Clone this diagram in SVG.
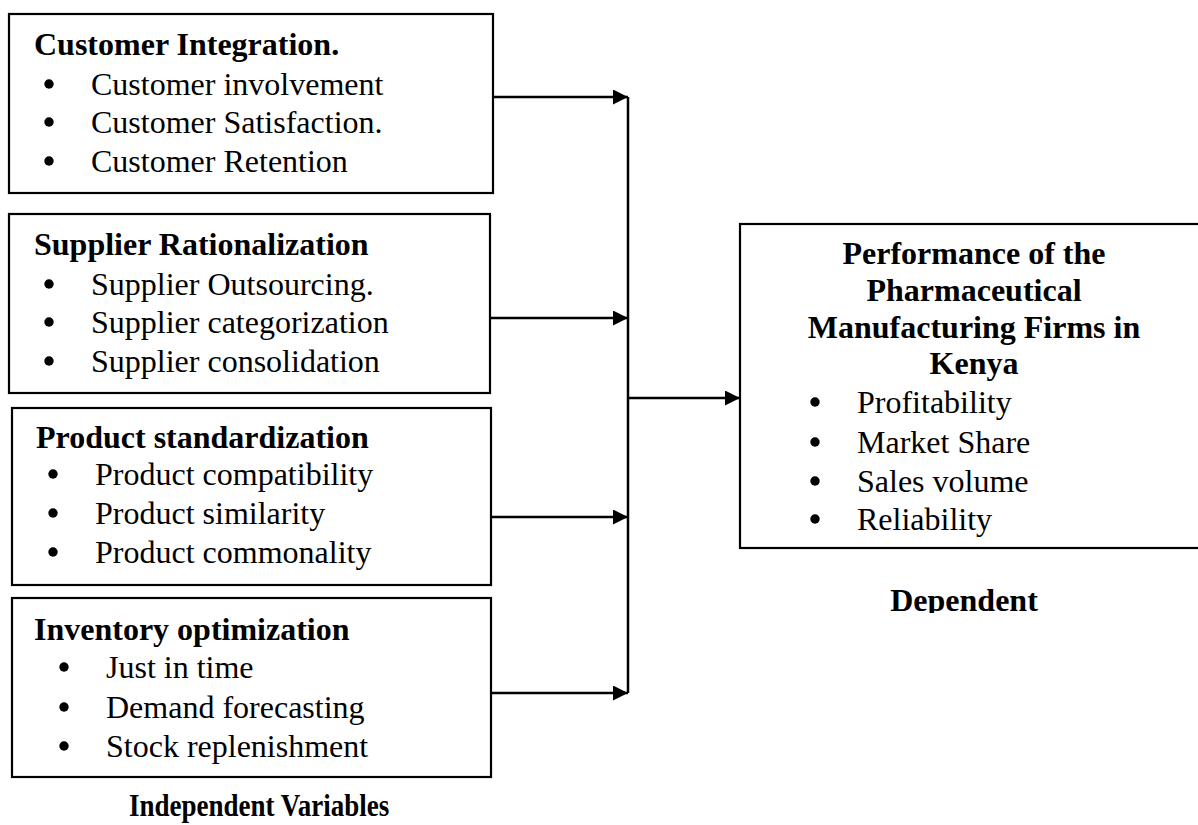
<svg xmlns="http://www.w3.org/2000/svg" width="1198" height="825" viewBox="0 0 1198 825">
<style>
.box{fill:#fff;stroke:#000;stroke-width:2.2}
.t{font-family:"Liberation Serif","Times New Roman",serif;font-size:32px;fill:#000}
.b{font-weight:bold}
.dot{fill:#000}
.ln{stroke:#000;stroke-width:2.5;fill:none}
</style>
<defs>
<marker id="ah" markerWidth="6" markerHeight="6" refX="6" refY="3" orient="auto" markerUnits="strokeWidth">
<path d="M0,0 L6,3 L0,6 Z" fill="#000"/>
</marker>
<clipPath id="clipDep"><rect x="0" y="0" width="1198" height="613"/></clipPath>
</defs>
<rect width="1198" height="825" fill="#fff"/>

<g id="connectors">
<line class="ln" x1="628" y1="97" x2="628" y2="693"/>
<line class="ln" x1="493" y1="97" x2="628" y2="97" marker-end="url(#ah)"/>
<line class="ln" x1="490" y1="318" x2="628" y2="318" marker-end="url(#ah)"/>
<line class="ln" x1="491" y1="517" x2="628" y2="517" marker-end="url(#ah)"/>
<line class="ln" x1="491" y1="693" x2="628" y2="693" marker-end="url(#ah)"/>
<line class="ln" x1="628" y1="398" x2="740" y2="398" marker-end="url(#ah)"/>
</g>

<g id="customer-integration">
<rect class="box" x="9" y="14" width="484" height="179"/>
<text class="t b" x="34" y="55">Customer Integration.</text>
<circle class="dot" cx="49" cy="84" r="4.7"/>
<circle class="dot" cx="49" cy="122" r="4.7"/>
<circle class="dot" cx="49" cy="161" r="4.7"/>
<text class="t" x="91" y="95">Customer involvement</text>
<text class="t" x="91" y="133">Customer Satisfaction.</text>
<text class="t" x="91" y="172">Customer Retention</text>
</g>

<g id="supplier-rationalization">
<rect class="box" x="9" y="214" width="481" height="179"/>
<text class="t b" x="34" y="255">Supplier Rationalization</text>
<circle class="dot" cx="49" cy="284" r="4.7"/>
<circle class="dot" cx="49" cy="322" r="4.7"/>
<circle class="dot" cx="49" cy="361" r="4.7"/>
<text class="t" x="91" y="295">Supplier Outsourcing.</text>
<text class="t" x="91" y="333">Supplier categorization</text>
<text class="t" x="91" y="372">Supplier consolidation</text>
</g>

<g id="product-standardization">
<rect class="box" x="12" y="408" width="479" height="177"/>
<text class="t b" x="36" y="448">Product standardization</text>
<circle class="dot" cx="53" cy="474" r="4.7"/>
<circle class="dot" cx="53" cy="513" r="4.7"/>
<circle class="dot" cx="53" cy="552" r="4.7"/>
<text class="t" x="95" y="485">Product compatibility</text>
<text class="t" x="95" y="524">Product similarity</text>
<text class="t" x="95" y="563">Product commonality</text>
</g>

<g id="inventory-optimization">
<rect class="box" x="12" y="598" width="479" height="179"/>
<text class="t b" x="34" y="640">Inventory optimization</text>
<circle class="dot" cx="64" cy="667" r="4.7"/>
<circle class="dot" cx="64" cy="707" r="4.7"/>
<circle class="dot" cx="64" cy="746" r="4.7"/>
<text class="t" x="106" y="678">Just in time</text>
<text class="t" x="106" y="718">Demand forecasting</text>
<text class="t" x="106" y="757">Stock replenishment</text>
</g>

<g id="performance">
<rect class="box" x="740" y="224" width="470" height="324"/>
<text class="t b" x="974" y="264" text-anchor="middle">Performance of the</text>
<text class="t b" x="974" y="301" text-anchor="middle">Pharmaceutical</text>
<text class="t b" x="974" y="338" text-anchor="middle">Manufacturing Firms in</text>
<text class="t b" x="974" y="374" text-anchor="middle">Kenya</text>
<circle class="dot" cx="815" cy="402" r="4.7"/>
<circle class="dot" cx="815" cy="442" r="4.7"/>
<circle class="dot" cx="815" cy="481" r="4.7"/>
<circle class="dot" cx="815" cy="519" r="4.7"/>
<text class="t" x="857" y="413">Profitability</text>
<text class="t" x="857" y="453">Market Share</text>
<text class="t" x="857" y="492">Sales volume</text>
<text class="t" x="857" y="530">Reliability</text>
</g>

<g id="labels">
<text class="t b" x="964" y="611" text-anchor="middle" clip-path="url(#clipDep)">Dependent</text>
<text class="t b" transform="translate(129,816) scale(1,1.15)" style="font-size:27px">Independent Variables</text>
</g>
</svg>
